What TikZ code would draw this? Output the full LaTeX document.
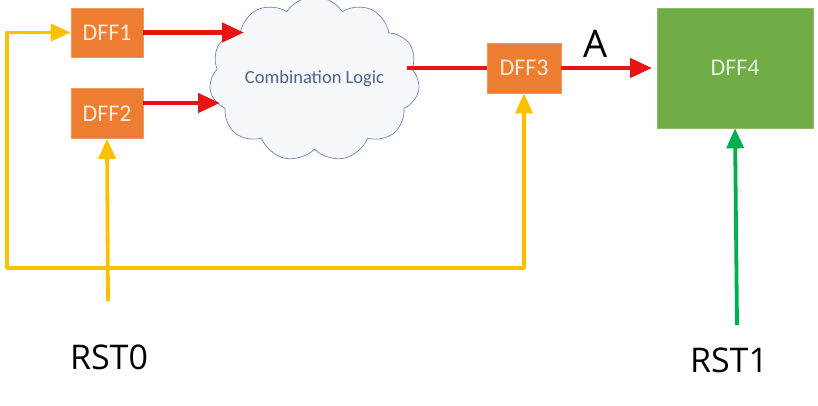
\documentclass[tikz,border=0pt]{standalone}
\usepackage{fontspec}
\setmainfont{Open Sans}
\newfontfamily\calfont{Carlito}
\usetikzlibrary{arrows.meta,shapes.symbols}
\definecolor{dfforange}{HTML}{ED7D31}
\definecolor{dffgreen}{HTML}{70AD47}
\definecolor{dfftext}{HTML}{FCEBDC}
\definecolor{dff4text}{HTML}{E6F2DC}
\definecolor{wireyellow}{HTML}{FFC000}
\definecolor{wirered}{HTML}{E81414}
\definecolor{wiregreen}{HTML}{00B050}
\definecolor{cloudfill}{HTML}{F7F8FC}
\definecolor{clouddraw}{HTML}{6F87B4}
\definecolor{cloudtext}{HTML}{4F6190}
\tikzset{
  dff/.style={fill=dfforange, draw=dfforange!80!white, line width=0.6pt, text=dfftext, font=\calfont\fontsize{24}{24}\selectfont, inner sep=0pt},
  redwire/.style={draw=wirered, line width=4.5pt, -{Triangle[length=22pt,width=19pt]}},
  yelwire/.style={draw=wireyellow, line width=3.8pt},
  yeltip/.style={-{Triangle[length=20pt,width=17pt]}},
  grnwire/.style={draw=wiregreen, line width=3.8pt, -{Triangle[length=20pt,width=17pt]}},
  rstlabel/.style={font=\fontsize{34}{34}\selectfont, text=black},
}
\begin{document}
\begin{tikzpicture}[x=1pt,y=-1pt]
\useasboundingbox[fill=white] (0,0) rectangle (818,406);
% nodes
\node[dff, minimum width=72pt, minimum height=49pt] (d1) at (107,32.5) {DFF1};
\node[dff, minimum width=72pt, minimum height=50pt] (d2) at (107,113.5) {DFF2};
\node[cloud, cloud puffs=11, cloud puff arc=115, aspect=1.4, fill=cloudfill, draw=clouddraw, line width=0.7pt, minimum width=195pt, minimum height=141pt, inner sep=0pt, text=cloudtext, font=\calfont\fontsize{18.5}{18.5}\selectfont] (cl) at (314.5,79) {Combination Logic};
\node[dff, minimum width=74pt, minimum height=50pt] (d3) at (524,68) {DFF3};
\node[dff, fill=dffgreen, draw=dffgreen!80!white, text=dff4text, minimum width=156pt, minimum height=120pt] (d4) at (735,68) {DFF4};
\node[font=\fontsize{38}{38}\selectfont, text=black] (A) at (596,44) {A};
\node[rstlabel] (r0) at (109,357) {RST0};
\node[rstlabel] (r1) at (729,360) {RST1};
% coordinates
\coordinate (c1) at (244,32.5);
\coordinate (c2) at (220,103);
\coordinate (c3) at (407,68);
\coordinate (c4) at (652,68);
\coordinate (lt) at (7,32.5);
\coordinate (lb) at (7,268);
\coordinate (rb) at (524,268);
\coordinate (s0) at (108,301);
\coordinate (s1) at (737,325);
% red wires
\draw[redwire] (d1.east) -- (c1);
\draw[redwire] (d2.east |- c2) -- (c2);
\draw[draw=wirered, line width=4.5pt] (c3) -- (d3.west);
\draw[redwire] (d3.east) -- (c4);
% yellow wires
\draw[yelwire, {Triangle[length=20pt,width=17pt]}-{Triangle[length=20pt,width=17pt]}, line join=round] (d1.west) -- (lt) -- (lb) -- (rb) -- (d3.south);
\draw[yelwire, yeltip] (s0) -- (d2.south);
% green wire
\draw[grnwire] (s1) -- (d4.south);
\end{tikzpicture}
\end{document}
